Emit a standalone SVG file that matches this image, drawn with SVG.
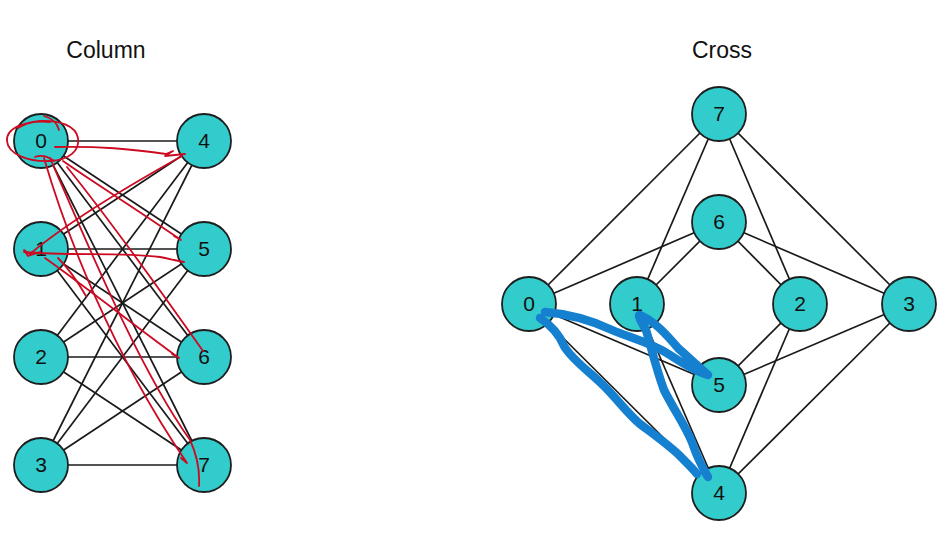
<svg xmlns="http://www.w3.org/2000/svg" width="940" height="555" viewBox="0 0 940 555">
<style>
.e{stroke:#1a1a1a;stroke-width:1.7;fill:none}
.n circle{fill:#33cccc;stroke:#1e1e1e;stroke-width:1.8}
.n text,.t{font-family:"Liberation Sans",Arial,sans-serif;fill:#111;text-anchor:middle}
.n text{font-size:21px}
.t{font-size:23px}
.r{stroke:#cc0a22;stroke-width:1.8;fill:none;stroke-linecap:round;stroke-linejoin:round}
.b{stroke:#1580cf;stroke-width:8.5;fill:none;stroke-linecap:round;stroke-linejoin:round}
</style>
<rect width="940" height="555" fill="#fff"/>
<text class="t" x="106" y="58">Column</text>
<text class="t" x="722" y="58">Cross</text>
<g id="edges-column">
<line class="e" x1="41" y1="141" x2="204" y2="141"/>
<line class="e" x1="41" y1="141" x2="204" y2="249"/>
<line class="e" x1="41" y1="141" x2="204" y2="357"/>
<line class="e" x1="41" y1="141" x2="204" y2="465"/>
<line class="e" x1="41" y1="249" x2="204" y2="141"/>
<line class="e" x1="41" y1="249" x2="204" y2="249"/>
<line class="e" x1="41" y1="249" x2="204" y2="357"/>
<line class="e" x1="41" y1="249" x2="204" y2="465"/>
<line class="e" x1="41" y1="357" x2="204" y2="141"/>
<line class="e" x1="41" y1="357" x2="204" y2="249"/>
<line class="e" x1="41" y1="357" x2="204" y2="357"/>
<line class="e" x1="41" y1="357" x2="204" y2="465"/>
<line class="e" x1="41" y1="465" x2="204" y2="141"/>
<line class="e" x1="41" y1="465" x2="204" y2="249"/>
<line class="e" x1="41" y1="465" x2="204" y2="357"/>
<line class="e" x1="41" y1="465" x2="204" y2="465"/>
</g>
<g id="edges-cross">
<line class="e" x1="719" y1="114" x2="529" y2="304"/>
<line class="e" x1="719" y1="114" x2="637" y2="304"/>
<line class="e" x1="719" y1="114" x2="800" y2="304"/>
<line class="e" x1="719" y1="114" x2="909" y2="304"/>
<line class="e" x1="719" y1="222" x2="529" y2="304"/>
<line class="e" x1="719" y1="222" x2="637" y2="304"/>
<line class="e" x1="719" y1="222" x2="800" y2="304"/>
<line class="e" x1="719" y1="222" x2="909" y2="304"/>
<line class="e" x1="719" y1="385" x2="529" y2="304"/>
<line class="e" x1="719" y1="385" x2="637" y2="304"/>
<line class="e" x1="719" y1="385" x2="800" y2="304"/>
<line class="e" x1="719" y1="385" x2="909" y2="304"/>
<line class="e" x1="719" y1="493" x2="529" y2="304"/>
<line class="e" x1="719" y1="493" x2="637" y2="304"/>
<line class="e" x1="719" y1="493" x2="800" y2="304"/>
<line class="e" x1="719" y1="493" x2="909" y2="304"/>
</g>
<g id="c0" class="n"><circle cx="41" cy="141" r="27"/><text x="41" y="148">0</text></g>
<g id="c1" class="n"><circle cx="41" cy="249" r="27"/><text x="41" y="256">1</text></g>
<g id="c2" class="n"><circle cx="41" cy="357" r="27"/><text x="41" y="364">2</text></g>
<g id="c3" class="n"><circle cx="41" cy="465" r="27"/><text x="41" y="472">3</text></g>
<g id="c4" class="n"><circle cx="204" cy="141" r="27"/><text x="204" y="148">4</text></g>
<g id="c5" class="n"><circle cx="204" cy="249" r="27"/><text x="204" y="256">5</text></g>
<g id="c6" class="n"><circle cx="204" cy="357" r="27"/><text x="204" y="364">6</text></g>
<g id="c7" class="n"><circle cx="204" cy="465" r="27"/><text x="204" y="472">7</text></g>
<g id="x7" class="n"><circle cx="719" cy="114" r="27"/><text x="719" y="121">7</text></g>
<g id="x6" class="n"><circle cx="719" cy="222" r="27"/><text x="719" y="229">6</text></g>
<g id="x0" class="n"><circle cx="529" cy="304" r="27"/><text x="529" y="311">0</text></g>
<g id="x1" class="n"><circle cx="637" cy="304" r="27"/><text x="637" y="311">1</text></g>
<g id="x2" class="n"><circle cx="800" cy="304" r="27"/><text x="800" y="311">2</text></g>
<g id="x3" class="n"><circle cx="909" cy="304" r="27"/><text x="909" y="311">3</text></g>
<g id="x5" class="n"><circle cx="719" cy="385" r="27"/><text x="719" y="392">5</text></g>
<g id="x4" class="n"><circle cx="719" cy="493" r="27"/><text x="719" y="500">4</text></g>
<g id="red-annotations">
<path class="r" d="M44,116 C52,118 57,123 59,130"/>
<path class="r" d="M50,122 C25,120 6,128 7,141 C8,155 30,162 50,161 C70,160 80,150 78,138 C76,126 60,120 40,121 C30,122 22,125 18,128"/>
<path class="r" d="M55,147 C100,146 130,149 166,154 L173,151 L165,156 L185,154"/>
<path class="r" d="M182,156 C130,185 70,220 30,254 L24,250 L28,256 L40,252"/>
<path class="r" d="M24,252 C70,256 120,252 160,257 C170,259 178,261 184,262 L174,260"/>
<path class="r" d="M35,157 C40,155 46,155 54,161"/>
<path class="r" d="M63,161 C90,180 130,205 181,240 L174,236"/>
<path class="r" d="M67,167 C110,220 160,290 203,351"/>
<path class="r" d="M44,158 C65,230 110,350 187,463 L181,458"/>
<path class="r" d="M50,158 C90,250 140,370 190,440 C197,455 200,470 199,486"/>
<path class="r" d="M45,258 C90,290 140,330 179,358 L172,354"/>
<path class="r" d="M58,258 C70,270 78,282 86,296"/>
</g>
<g id="blue-annotations">
<path class="b" d="M545,312 C570,314 595,322 612,330 C630,338 650,342 670,355 C685,365 698,372 708,375 C700,368 688,357 678,348 C666,334 655,322 642,316 C636,312 640,320 646,330 C652,350 656,368 664,390 C674,410 688,430 693,445 C698,460 704,470 708,477"/>
<path class="b" d="M540,318 C552,326 560,336 564,346 C572,360 590,372 604,386 C618,400 628,414 640,424 C656,436 670,446 680,456 C688,464 694,470 697,474"/>
</g>
</svg>
